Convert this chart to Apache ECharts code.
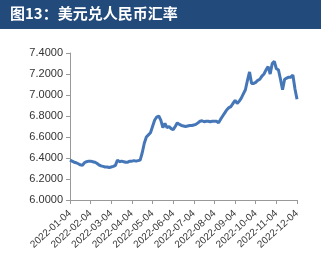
<!DOCTYPE html>
<html>
<head>
<meta charset="utf-8">
<script src="https://cdn.jsdelivr.net/npm/echarts@6/dist/echarts.min.js"></script>
<style>
  html, body { margin: 0; padding: 0; background: #fff; }
  #main { width: 321px; height: 256px; }
</style>
</head>
<body>
<div id="main"></div>
<script>
// 月度刻度标签
const monthTicks = ['2022-01-04', '2022-02-04', '2022-03-04', '2022-04-04', '2022-05-04', '2022-06-04',
  '2022-07-04', '2022-08-04', '2022-09-04', '2022-10-04', '2022-11-04', '2022-12-04']
// 美元兑人民币汇率
const usdCny = [
  6.38, 6.37, 6.36, 6.355, 6.345, 6.335, 6.33, 6.355, 6.365, 6.37,
  6.37, 6.365, 6.36, 6.35, 6.335, 6.325, 6.32, 6.315, 6.315, 6.31,
  6.315, 6.32, 6.33, 6.38, 6.365, 6.37, 6.365, 6.36, 6.36, 6.37,
  6.37, 6.375, 6.37, 6.375, 6.38, 6.45, 6.54, 6.60, 6.62, 6.64,
  6.70, 6.76, 6.79, 6.80, 6.76, 6.69, 6.73, 6.69, 6.70, 6.68,
  6.67, 6.70, 6.735, 6.72, 6.71, 6.705, 6.70, 6.705, 6.71, 6.71,
  6.715, 6.72, 6.735, 6.75, 6.755, 6.745, 6.75, 6.75, 6.745, 6.75,
  6.75, 6.75, 6.735, 6.77, 6.80, 6.83, 6.86, 6.88, 6.89, 6.92,
  6.95, 6.92, 6.94, 6.97, 7.01, 7.05, 7.14, 7.22, 7.11, 7.11,
  7.12, 7.14, 7.15, 7.18, 7.20, 7.24, 7.27, 7.20, 7.30, 7.32,
  7.25, 7.24, 7.15, 7.05, 7.15, 7.16, 7.17, 7.17, 7.19, 7.06,
  6.96
]
const step = 10
const cats = usdCny.map(function (v, i) { return String(i) })

let myChart = echarts.init(document.getElementById('main'))
myChart.setOption({
  animation: false,
  graphic: [
    {
      type: 'rect',
      shape: { x: 0, y: 0, width: 321, height: 29 },
      style: { fill: '#224a7b' }
    },
    {
      type: 'text',
      left: 10,
      top: 6,
      style: {
        text: '图13：美元兑人民币汇率',
        fill: '#fff',
        font: 'bold 15px "Noto Sans CJK SC", sans-serif'
      }
    }
  ],
  grid: { left: 70, right: 24, top: 53, bottom: 56 },
  xAxis: {
    type: 'category',
    data: cats,
    boundaryGap: false,
    axisLine: { lineStyle: { color: '#999' } },
    axisTick: {
      show: true,
      length: 4,
      interval: function (i) { return i % step === 0 },
      lineStyle: { color: '#999' }
    },
    axisLabel: {
      interval: function (i) { return i % step === 0 },
      rotate: 42,
      margin: 12,
      fontSize: 10,
      color: '#333',
      fontFamily: 'Liberation Sans, Arial, sans-serif',
      formatter: function (v, i) { return monthTicks[i / step] || '' }
    }
  },
  yAxis: {
    type: 'value',
    min: 6,
    max: 7.4,
    interval: 0.2,
    splitLine: { show: false },
    axisLine: { show: true, lineStyle: { color: '#999' } },
    axisTick: { show: true, length: 4, lineStyle: { color: '#999' } },
    axisLabel: {
      margin: 7,
      fontSize: 11,
      color: '#333',
      fontFamily: 'Liberation Sans, Arial, sans-serif',
      formatter: function (v) { return v.toFixed(4) }
    }
  },
  series: [{
    type: 'line',
    data: usdCny,
    symbol: 'none',
    lineStyle: { color: '#4577b8', width: 3 }
  }]
})
</script>
</body>
</html>
